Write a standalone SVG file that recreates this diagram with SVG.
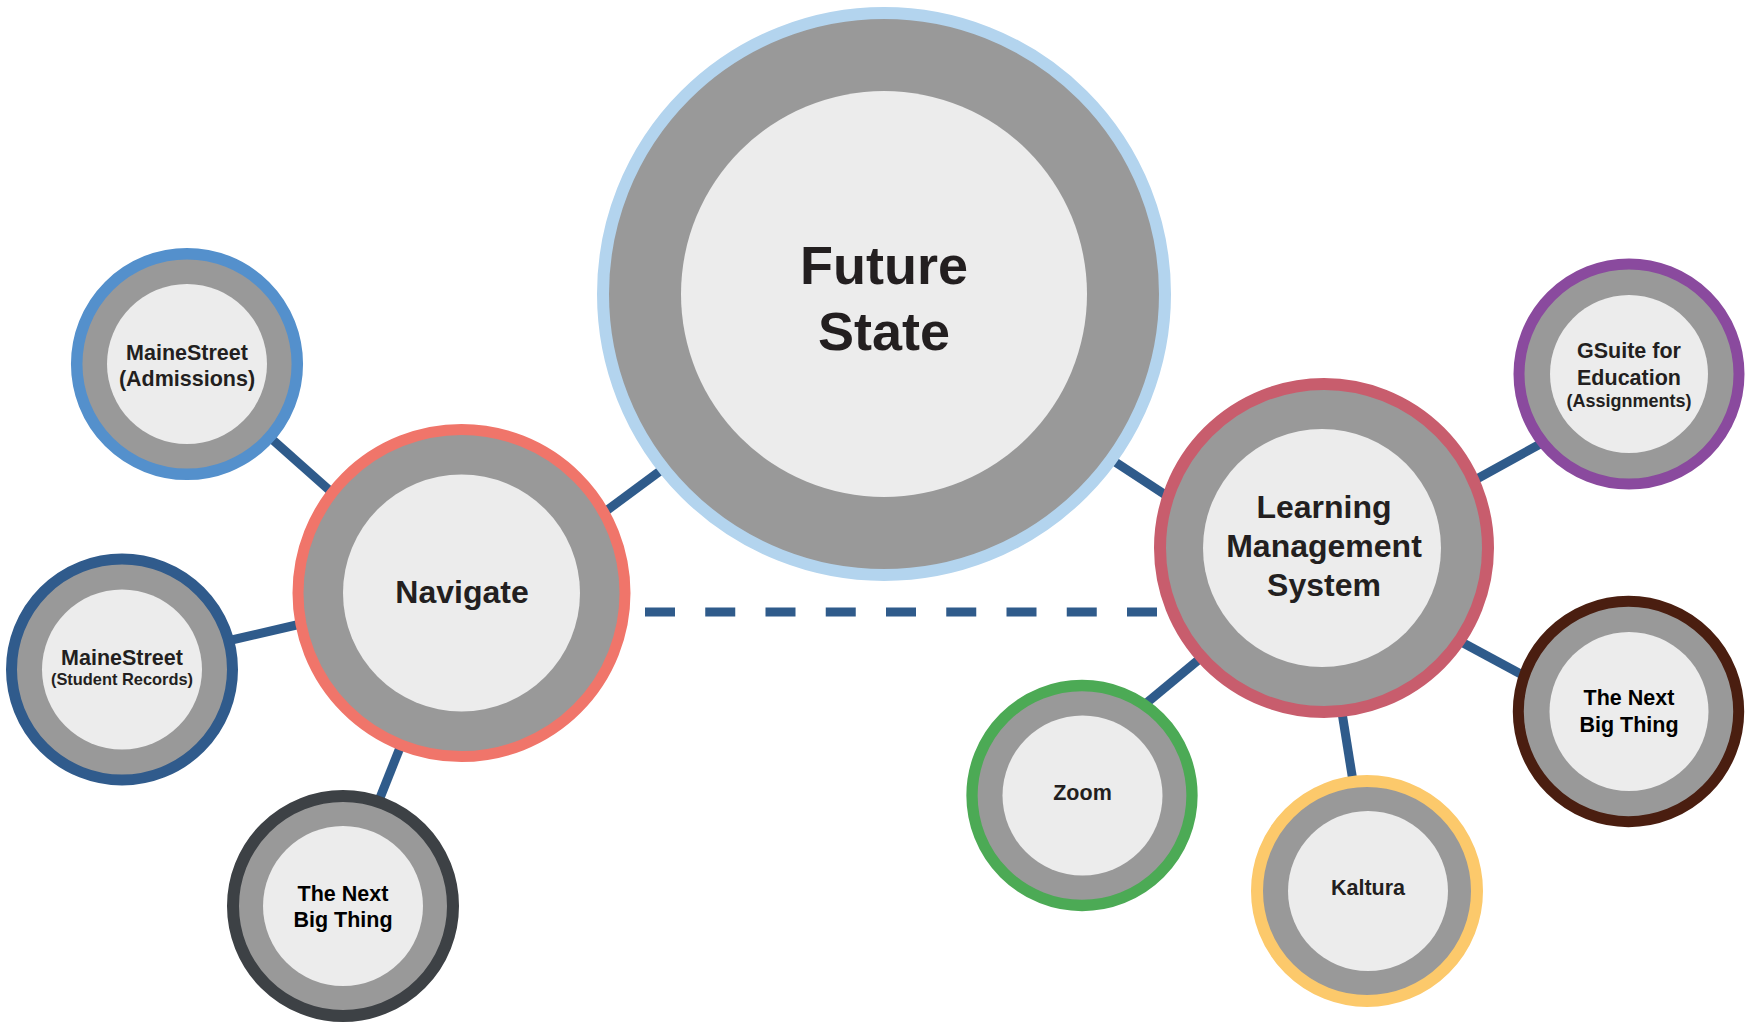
<svg xmlns="http://www.w3.org/2000/svg" width="1745" height="1022" viewBox="0 0 1745 1022">
<style>
.ring{fill:#999999}
.core{fill:#ececec}
.t{font-family:"Liberation Sans",Arial,Helvetica,sans-serif;font-weight:bold;fill:#231f20;text-anchor:middle}
.tb{fill:#000000}
.c{stroke:#2f5b8b;stroke-width:9;fill:none}
</style>
<rect width="1745" height="1022" fill="#ffffff"/>
<g id="connectors">
<line class="c" x1="580" y1="530.3" x2="690" y2="448.8"/>
<line class="c" x1="1090" y1="445.4" x2="1190" y2="511"/>
<line class="c" x1="255" y1="424" x2="346" y2="505"/>
<line class="c" x1="210" y1="645" x2="318" y2="620"/>
<line class="c" x1="407" y1="730" x2="372" y2="818"/>
<line class="c" x1="1455" y1="491" x2="1562" y2="432"/>
<line class="c" x1="1441" y1="631" x2="1541" y2="685"/>
<line class="c" x1="1220" y1="642" x2="1126" y2="720"/>
<line class="c" x1="1339" y1="694" x2="1356" y2="800"/>
<line class="c" x1="645" y1="612" x2="1160" y2="612" stroke-width="10.5" stroke-dasharray="30 30.25"/>
</g>
<g id="future-state">
<circle class="ring" cx="884" cy="294" r="281" stroke="#b3d4ee" stroke-width="12"/>
<circle class="core" cx="884" cy="294" r="203"/>
<text class="t" x="884" y="284" font-size="54">Future</text>
<text class="t" x="884" y="350" font-size="54">State</text>
</g>
<g id="navigate">
<circle class="ring" cx="461.5" cy="593" r="163.5" stroke="#f0756a" stroke-width="11"/>
<circle class="core" cx="461.5" cy="593" r="118.5"/>
<text class="t" x="462" y="603" font-size="32">Navigate</text>
</g>
<g id="lms">
<circle class="ring" cx="1324" cy="548" r="164" stroke="#c85d6d" stroke-width="12"/>
<circle class="core" cx="1322" cy="548" r="119"/>
<text class="t" x="1324" y="518" font-size="32">Learning</text>
<text class="t" x="1324" y="557" font-size="32">Management</text>
<text class="t" x="1324" y="596" font-size="32">System</text>
</g>
<g id="mainestreet-admissions">
<circle class="ring" cx="187" cy="364" r="110.3" stroke="#5490cc" stroke-width="11.5"/>
<circle class="core" cx="187" cy="364" r="80"/>
<text class="t" x="187" y="360" font-size="21.5">MaineStreet</text>
<text class="t" x="187" y="386" font-size="21.5">(Admissions)</text>
</g>
<g id="mainestreet-records">
<circle class="ring" cx="122" cy="669.5" r="110.5" stroke="#305b8c" stroke-width="11"/>
<circle class="core" cx="122" cy="669.5" r="80"/>
<text class="t" x="122" y="665" font-size="21.5">MaineStreet</text>
<text class="t" x="122" y="684.5" font-size="16.4">(Student Records)</text>
</g>
<g id="next-big-thing-left">
<circle class="ring" cx="343" cy="906" r="110" stroke="#3d4145" stroke-width="12"/>
<circle class="core" cx="343" cy="906" r="80"/>
<text class="t tb" x="343" y="900.7" font-size="21.5">The Next</text>
<text class="t tb" x="343" y="926.7" font-size="21.5">Big Thing</text>
</g>
<g id="gsuite">
<circle class="ring" cx="1629" cy="374" r="110" stroke="#8a4a9e" stroke-width="11"/>
<circle class="core" cx="1629" cy="374" r="79"/>
<text class="t" x="1629" y="358.3" font-size="21.5">GSuite for</text>
<text class="t" x="1629" y="385" font-size="21.5">Education</text>
<text class="t" x="1629" y="406.5" font-size="18">(Assignments)</text>
</g>
<g id="next-big-thing-right">
<circle class="ring" cx="1628.5" cy="711.5" r="110.2" stroke="#4a1e10" stroke-width="11"/>
<circle class="core" cx="1629" cy="711.5" r="79.5"/>
<text class="t tb" x="1629" y="705" font-size="21.5">The Next</text>
<text class="t tb" x="1629" y="731.7" font-size="21.5">Big Thing</text>
</g>
<g id="zoom">
<circle class="ring" cx="1082" cy="795.5" r="110" stroke="#4caa55" stroke-width="11.3"/>
<circle class="core" cx="1082.5" cy="795.5" r="80"/>
<text class="t" x="1082.5" y="800" font-size="21.5">Zoom</text>
</g>
<g id="kaltura">
<circle class="ring" cx="1367" cy="891" r="110" stroke="#fcc96b" stroke-width="12"/>
<circle class="core" cx="1368" cy="891" r="80"/>
<text class="t" x="1368" y="895" font-size="21.5">Kaltura</text>
</g>
</svg>
